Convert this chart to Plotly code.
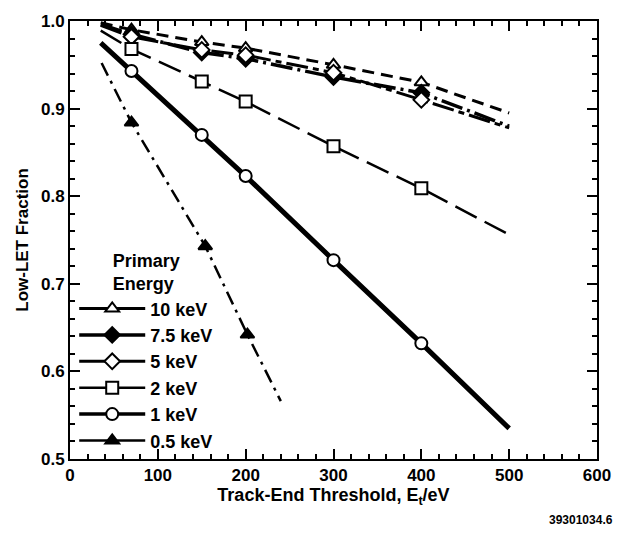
import plotly.graph_objects as go

# Track-end threshold values (eV) at which each curve is evaluated
thresholds = [35, 70, 150, 200, 300, 400, 500]
thresholds_low = [36, 70, 154, 202, 240]

# Simulation points carrying symbols
marker_x = [70, 150, 200, 300, 400]
marker_x_low = [70, 154, 202]

# Low-LET fraction for each primary electron energy
frac_10kev = [0.998, 0.990, 0.976, 0.969, 0.950, 0.930, 0.895]
frac_7p5kev = [0.996, 0.985, 0.964, 0.957, 0.936, 0.918, 0.880]
frac_5kev = [0.995, 0.982, 0.967, 0.961, 0.941, 0.910, 0.878]
frac_2kev = [0.989, 0.968, 0.931, 0.908, 0.857, 0.809, 0.756]
frac_1kev = [0.975, 0.943, 0.870, 0.823, 0.727, 0.632, 0.535]
frac_0p5kev = [0.952, 0.884, 0.743, 0.642, 0.566]

series = [
    # name, x, y, marker xs, symbol, fill, dash, width
    ("10 keV", thresholds, frac_10kev, marker_x, "triangle-up", "white", "12px,7px", 3),
    ("7.5 keV", thresholds, frac_7p5kev, marker_x, "diamond", "black", "22px,5px,3px,5px", 3.5),
    ("5 keV", thresholds, frac_5kev, marker_x, "diamond", "white", "22px,5px,6px,5px", 3),
    ("2 keV", thresholds, frac_2kev, marker_x, "square", "white", "24px,9px", 2.5),
    ("1 keV", thresholds, frac_1kev, marker_x, "circle", "white", "solid", 5),
    ("0.5 keV", thresholds_low, frac_0p5kev, marker_x_low, "triangle-up", "black", "14px,6px,3px,6px", 2.5),
]

fig = go.Figure()

for name, xs, ys, mx, sym, fill, dash, width in series:
    fig.add_trace(go.Scatter(
        x=xs, y=ys, mode="lines", showlegend=False, legendgroup=name,
        line=dict(color="black", width=width, dash=dash),
        hoverinfo="skip",
    ))

for name, xs, ys, mx, sym, fill, dash, width in series:
    my = [ys[xs.index(v)] for v in mx]
    fig.add_trace(go.Scatter(
        x=mx, y=my, mode="markers", showlegend=False, legendgroup=name,
        marker=dict(symbol=sym, size=12, color=fill,
                    line=dict(color="black", width=2)),
    ))

# legend entries
for name, xs, ys, mx, sym, fill, dash, width in series:
    fig.add_trace(go.Scatter(
        x=[None], y=[None], mode="lines+markers", name=name, legendgroup=name,
        line=dict(color="black", width=min(width, 3.5), dash="solid"),
        marker=dict(symbol=sym, size=12, color=fill,
                    line=dict(color="black", width=2)),
    ))

axis_font = dict(family="Liberation Sans, Arial, sans-serif", size=17,
                 color="black", weight="bold")
title_font = dict(family="Liberation Sans, Arial, sans-serif", size=18,
                  color="black", weight="bold")

fig.update_layout(
    width=624, height=536,
    margin=dict(l=70, r=27, t=15, b=77),
    paper_bgcolor="white", plot_bgcolor="white",
    font=dict(family="Liberation Sans, Arial, sans-serif", color="black", weight="bold"),
    showlegend=True,
    legend=dict(
        x=0.008, y=0.492, xanchor="left", yanchor="top",
        bgcolor="rgba(0,0,0,0)",
        font=dict(size=18, weight="bold"),
        title=dict(text="Primary<br>Energy", side="top center",
                   font=dict(size=18, weight="bold")),
        tracegroupgap=0,
        itemwidth=66,
    ),
    xaxis=dict(
        range=[0, 600], dtick=100, tick0=0,
        showgrid=False, zeroline=False,
        showline=True, linewidth=2, linecolor="black", mirror="ticks",
        ticks="inside", ticklen=10, tickwidth=2, tickcolor="black",
        minor=dict(dtick=20, ticks="inside", ticklen=5, tickwidth=1.5, tickcolor="black"),
        tickfont=axis_font,
        title=dict(text="Track-End Threshold, E<sub>t</sub>/eV", font=title_font, standoff=0),
    ),
    yaxis=dict(
        range=[0.5, 1.0], dtick=0.1, tick0=0.5, tickformat=".1f",
        showgrid=False, zeroline=False,
        showline=True, linewidth=2, linecolor="black", mirror="ticks",
        ticks="inside", ticklen=10, tickwidth=2, tickcolor="black",
        minor=dict(dtick=0.02, ticks="inside", ticklen=5, tickwidth=1.5, tickcolor="black"),
        tickfont=axis_font,
        title=dict(text="Low-LET Fraction", font=axis_font, standoff=8),
    ),
    annotations=[
        dict(text="39301034.6", xref="paper", yref="paper", x=1.034, y=-0.14,
             xanchor="right", yanchor="middle", showarrow=False,
             font=dict(size=12, weight="bold", color="black")),
    ],
)

fig.write_html("out.html")
